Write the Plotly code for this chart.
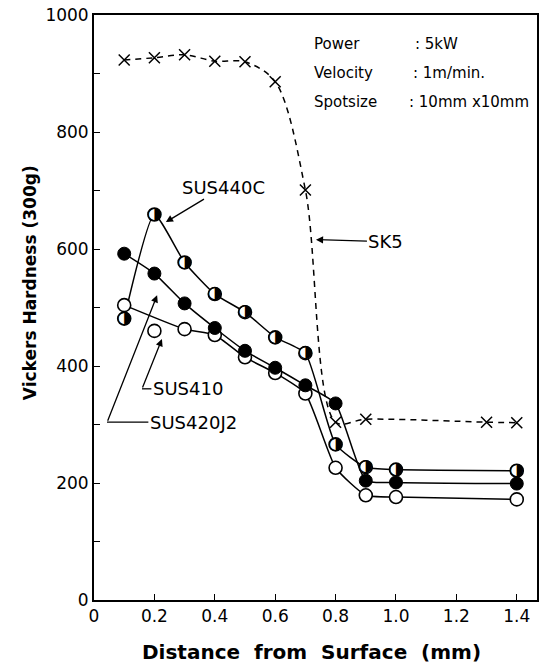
import plotly.graph_objects as go

# ---------------- data ----------------
distance = [0.1, 0.2, 0.3, 0.4, 0.5, 0.6, 0.7, 0.8, 0.9, 1.0, 1.4]
sk5_x = [0.1, 0.2, 0.3, 0.4, 0.5, 0.6, 0.7, 0.8, 0.9, 1.3, 1.4]
sk5_hv = [923, 927, 932, 921, 920, 886, 701, 304, 309, 304, 303]
sus440c_hv = [481, 659, 577, 523, 492, 449, 422, 266, 227, 223, 221]   # half-filled
sus420j2_hv = [592, 558, 507, 465, 426, 397, 367, 336, 204, 201, 199]  # filled
sus410_hv = [504, 460, 463, 453, 415, 388, 353, 226, 179, 176, 172]    # open
sus410_on_curve = [True, False, True, True, True, True, True, True, True, True, True]

x_ticks = [0, 0.2, 0.4, 0.6, 0.8, 1.0, 1.2, 1.4]
x_ticktext = ["0", "0.2", "0.4", "0.6", "0.8", "1.0", "1.2", "1.4"]
y_ticks = [0, 200, 400, 600, 800, 1000]

conditions = [("Power", ": 5kW"), ("Velocity", ": 1m/min."), ("Spotsize", ": 10mm x10mm")]

FONT = "DejaVu Sans"
fig = go.Figure()

# ---------------- lines ----------------
fig.add_trace(go.Scatter(x=sk5_x, y=sk5_hv, mode="lines",
                         line=dict(color="black", width=1.5, dash="6px,5px", shape="spline", smoothing=0.9),
                         hoverinfo="skip", showlegend=False))
fig.add_trace(go.Scatter(x=distance, y=sus440c_hv, mode="lines",
                         line=dict(color="black", width=1.5, shape="spline", smoothing=0.5),
                         hoverinfo="skip", showlegend=False))
fig.add_trace(go.Scatter(x=distance, y=sus420j2_hv, mode="lines",
                         line=dict(color="black", width=1.5, shape="spline", smoothing=0.5),
                         hoverinfo="skip", showlegend=False))
fx = [x for x, k in zip(distance, sus410_on_curve) if k]
fy = [y for y, k in zip(sus410_hv, sus410_on_curve) if k]
fig.add_trace(go.Scatter(x=fx, y=fy, mode="lines",
                         line=dict(color="black", width=1.5, shape="spline", smoothing=0.5),
                         hoverinfo="skip", showlegend=False))

# ---------------- markers ----------------
fig.add_trace(go.Scatter(x=sk5_x, y=sk5_hv, mode="markers", name="SK5",
                         marker=dict(symbol="x-thin-open", size=11, color="black",
                                     line=dict(color="black", width=1.5)),
                         showlegend=False))
fig.add_trace(go.Scatter(x=distance, y=sus410_hv, mode="markers", name="SUS410",
                         marker=dict(symbol="circle", size=13, color="white", line=dict(color="black", width=1.6)),
                         showlegend=False))
fig.add_trace(go.Scatter(x=distance, y=sus420j2_hv, mode="markers", name="SUS420J2",
                         marker=dict(symbol="circle", size=13, color="black", line=dict(color="black", width=1)),
                         showlegend=False))
fig.add_trace(go.Scatter(x=distance, y=sus440c_hv, mode="markers", name="SUS440C",
                         marker=dict(symbol="circle", size=13, color="white", line=dict(color="black", width=1.6)),
                         showlegend=False))
fig.add_trace(go.Scatter(x=distance, y=sus440c_hv, mode="text", name="SUS440C half",
                         text=["\u25D1"] * len(distance), textposition="middle center",
                         textfont=dict(family=FONT, size=17, color="#000000"),
                         hoverinfo="skip", showlegend=False))

# ---------------- annotations ----------------
ann = []
lab_font = dict(family=FONT, size=18, color="black")
arrow = dict(arrowhead=2, arrowsize=1.1, arrowwidth=1.3, arrowcolor="black")
ann.append(dict(x=0.238, y=646, xref="x", yref="y", ax=58, ay=-35, text="SUS440C",
                showarrow=True, font=lab_font, **arrow))
ann.append(dict(x=0.735, y=616, xref="x", yref="y", ax=70, ay=2, text="SK5",
                showarrow=True, font=lab_font, **arrow))
# SUS410 leader
ann.append(dict(x=0.225, y=446, xref="x", yref="y", ax=-20, ay=50, text="",
                showarrow=True, **arrow))
ann.append(dict(x=0.19, y=361, xref="x", yref="y", text="SUS410", xanchor="left",
                showarrow=False, font=lab_font))
# SUS420J2 leader
ann.append(dict(x=0.209, y=521, xref="x", yref="y", ax=-50, ay=127, text="",
                showarrow=True, **arrow))
ann.append(dict(x=0.18, y=304, xref="x", yref="y", text="SUS420J2", xanchor="left",
                showarrow=False, font=lab_font))

cond_font = dict(family=FONT, size=15, color="black")
rows_y = [0.950, 0.901, 0.851]
colon_x = [0.72, 0.716, 0.707]
for (lab, val), yy, cx in zip(conditions, rows_y, colon_x):
    ann.append(dict(x=0.492, y=yy, xref="paper", yref="paper", text=lab, xanchor="left", yanchor="middle",
                    showarrow=False, font=cond_font))
    ann.append(dict(x=cx, y=yy, xref="paper", yref="paper", text=val, xanchor="left", yanchor="middle",
                    showarrow=False, font=cond_font))

ann.append(dict(x=-0.144, y=0.542, xref="paper", yref="paper", xanchor="center", yanchor="middle",
                text="<b>Vickers Hardness (300g)</b>",
                textangle=-90, showarrow=False, font=dict(family=FONT, size=17, color="black")))
ann.append(dict(x=0.492, y=-0.089, xref="paper", yref="paper", xanchor="center", yanchor="middle",
                text="<b>Distance  from  Surface  (mm)</b>",
                showarrow=False, font=dict(family=FONT, size=20, color="black")))

shapes = [
    dict(type="line", xref="x", yref="y", x0=0.159, x1=0.19, y0=361, y1=361, line=dict(color="black", width=1.3)),
    dict(type="line", xref="x", yref="y", x0=0.043, x1=0.18, y0=304, y1=304, line=dict(color="black", width=1.3)),
]

fig.update_layout(
    width=543, height=669,
    margin=dict(l=94, r=6, t=15, b=69, autoexpand=False),
    paper_bgcolor="white", plot_bgcolor="white",
    annotations=ann, shapes=shapes,
    font=dict(family=FONT, size=17, color="black"),
    xaxis=dict(range=[0, 1.467], tickvals=x_ticks, ticktext=x_ticktext, ticks="inside", ticklen=6,
               tickwidth=1.3, tickcolor="black", showline=True, linecolor="black", linewidth=1.8,
               mirror=True, showgrid=False, zeroline=False, tickfont=dict(family=FONT, size=17),
               ticklabeloverflow="allow", automargin=False),
    yaxis=dict(range=[0, 1000], tickvals=y_ticks, ticks="inside", ticklen=6, tickwidth=1.3,
               tickcolor="black", showline=True, linecolor="black", linewidth=1.8, mirror=True,
               showgrid=False, zeroline=False, tickfont=dict(family=FONT, size=17),
               ticklabeloverflow="allow", automargin=False,
               minor=dict(dtick=100, ticks="inside", ticklen=6, tickcolor="black", tickwidth=1.3)),
)

fig.write_html("out.html", config={"displayModeBar": False},
               post_script="document.body.style.margin='0';document.body.style.overflow='hidden';")
